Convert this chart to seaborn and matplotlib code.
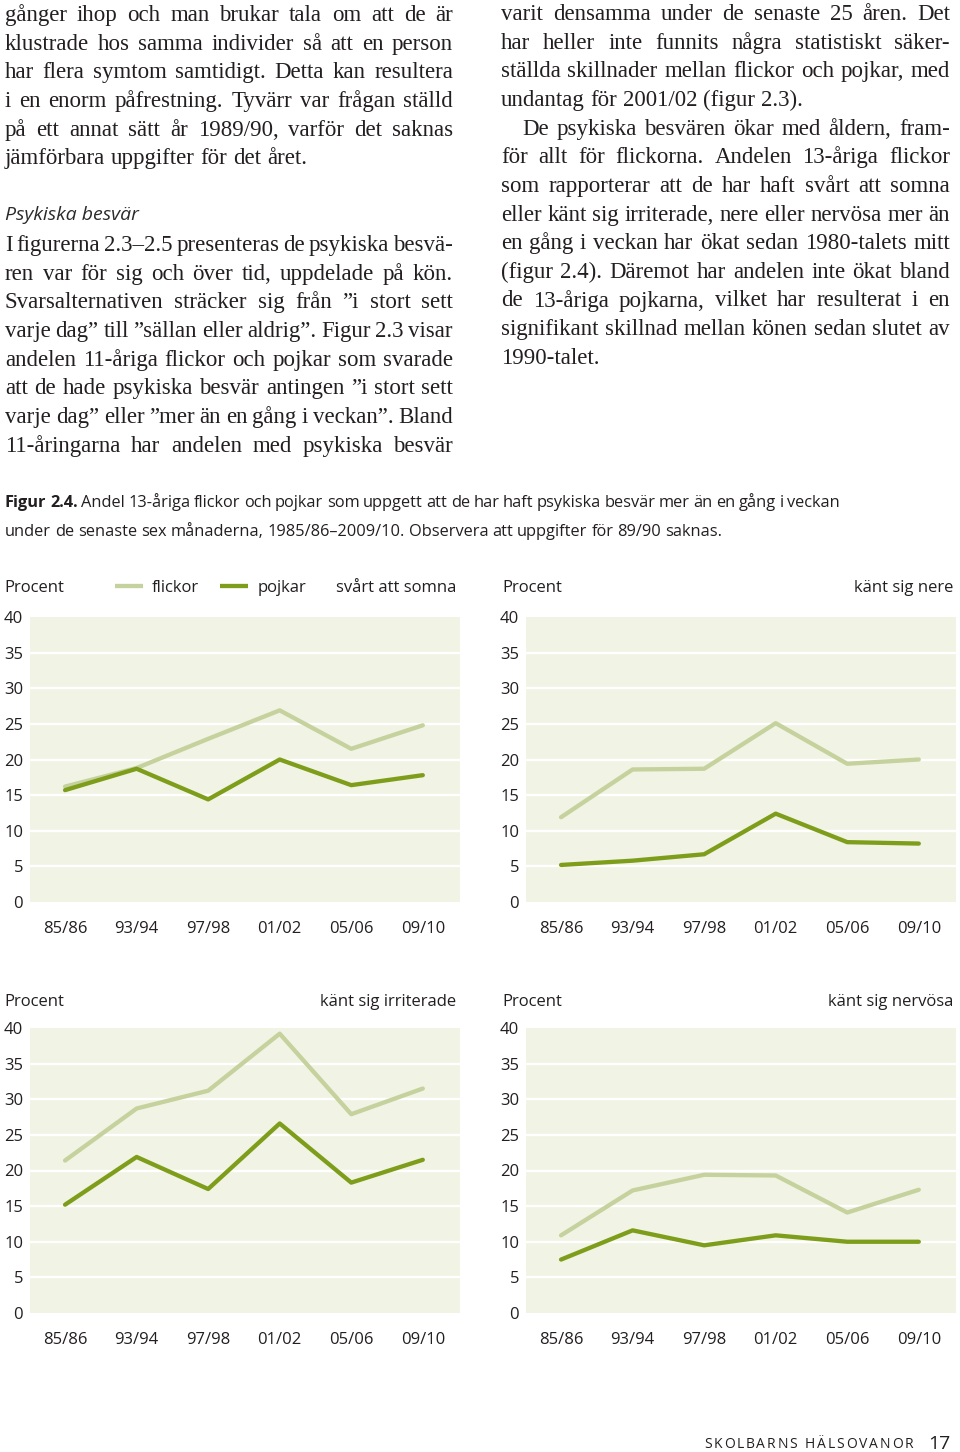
import unicodedata
import matplotlib
matplotlib.use("Agg")
import matplotlib.pyplot as plt
import seaborn as sns
import pandas as pd

# ---------------- data ----------------
years = ["85/86", "93/94", "97/98", "01/02", "05/06", "09/10"]
genders = ["flickor", "pojkar"]

sleep_girls = [16.2, 18.8, 22.9, 26.9, 21.5, 24.8]
sleep_boys = [15.7, 18.7, 14.4, 20.0, 16.4, 17.8]
down_girls = [11.9, 18.6, 18.7, 25.1, 19.4, 20.0]
down_boys = [5.2, 5.8, 6.7, 12.4, 8.4, 8.2]
irrit_girls = [21.4, 28.7, 31.2, 39.2, 27.9, 31.5]
irrit_boys = [15.2, 21.9, 17.4, 26.6, 18.3, 21.5]
nerv_girls = [10.9, 17.2, 19.4, 19.3, 14.1, 17.3]
nerv_boys = [7.5, 11.6, 9.5, 10.9, 10.0, 10.0]

panel_titles = ["svårt att somna", "känt sig nere", "känt sig irriterade", "känt sig nervösa"]
panel_girls = [sleep_girls, down_girls, irrit_girls, nerv_girls]
panel_boys = [sleep_boys, down_boys, irrit_boys, nerv_boys]
y_ticks = [0, 5, 10, 15, 20, 25, 30, 35, 40]

caption_bold = "Figur 2.4."
caption_l1 = "Andel 13-åriga flickor och pojkar som uppgett att de har haft psykiska besvär mer än en gång i veckan"
caption_l2 = "under de senaste sex månaderna, 1985/86–2009/10. Observera att uppgifter för 89/90 saknas."

left_col_a = [
    "gånger ihop och man brukar tala om att de är",
    "klustrade hos samma individer så att en person",
    "har flera symtom samtidigt. Detta kan resultera",
    "i en enorm påfrestning. Tyvärr var frågan ställd",
    "på ett annat sätt år 1989/90, varför det saknas",
    "jämförbara uppgifter för det året.",
]
left_heading = "Psykiska besvär"
left_col_b = [
    "I figurerna 2.3–2.5 presenteras de psykiska besvä-",
    "ren var för sig och över tid, uppdelade på kön.",
    "Svarsalternativen sträcker sig från ”i stort sett",
    "varje dag” till ”sällan eller aldrig”. Figur 2.3 visar",
    "andelen 11-åriga flickor och pojkar som svarade",
    "att de hade psykiska besvär antingen ”i stort sett",
    "varje dag” eller ”mer än en gång i veckan”. Bland",
    "11-åringarna har andelen med psykiska besvär",
]
right_col = [
    "varit densamma under de senaste 25 åren. Det",
    "har heller inte funnits några statistiskt säker-",
    "ställda skillnader mellan flickor och pojkar, med",
    "undantag för 2001/02 (figur 2.3).",
    "De psykiska besvären ökar med åldern, fram-",
    "för allt för flickorna. Andelen 13-åriga flickor",
    "som rapporterar att de har haft svårt att somna",
    "eller känt sig irriterade, nere eller nervösa mer än",
    "en gång i veckan har ökat sedan 1980-talets mitt",
    "(figur 2.4). Däremot har andelen inte ökat bland",
    "de 13-åriga pojkarna, vilket har resulterat i en",
    "signifikant skillnad mellan könen sedan slutet av",
    "1990-talet.",
]
footer_text = "SKOLBARNS HÄLSOVANOR"
page_no = "17"

# ---------------- style ----------------
C_GIRL = "#c5d29d"
C_BOY = "#7e9e1b"
BG = "#f1f3e5"
TXT = "#231f20"
SERIF = ["Liberation Serif", "DejaVu Serif"]
SANS = ["Open Sans", "DejaVu Sans"]

sns.set_style("white")
plt.rcParams["font.family"] = SANS


def nfc(s):
    return unicodedata.normalize("NFC", s)


W, H = 960, 1452
fig = plt.figure(figsize=(W / 100, H / 100), dpi=100)
fig.patch.set_facecolor("white")
page = fig.add_axes([0, 0, 1, 1])
page.set_xlim(0, W)
page.set_ylim(H, 0)
page.axis("off")
renderer = fig.canvas.get_renderer()


def text_w(s, fs, family, style="normal", weight="normal"):
    t = page.text(0, 0, s, fontsize=fs, family=family, style=style, weight=weight)
    w = t.get_window_extent(renderer).width
    t.remove()
    return w


def space_w(fs, family, style="normal", weight="normal"):
    return text_w("H H", fs, family, style, weight) - text_w("HH", fs, family, style, weight)


def place_line(words, x0, yb, x1=None, fs=14.5, family=SERIF, style="normal",
               weights=None, color=TXT):
    ts = []
    for i, w in enumerate(words):
        wt = weights[i] if weights else "normal"
        ts.append(page.text(x0, yb, nfc(w), fontsize=fs, family=family, style=style,
                            weight=wt, color=color, va="baseline", ha="left"))
    ws = [t.get_window_extent(renderer).width for t in ts]
    if x1 is not None and len(ts) > 1:
        gap = (x1 - x0 - sum(ws)) / (len(ts) - 1)
    else:
        gap = space_w(fs, family, style)
    x = x0
    for t, w in zip(ts, ws):
        t.set_x(x)
        x += w + gap


# ---------------- body text ----------------
BODY_FS = 16.5
LS = 28.65
for i, ln in enumerate(left_col_a):
    last = i == len(left_col_a) - 1
    place_line(ln.split(" "), 5, 21 + i * LS, None if last else 453, fs=BODY_FS)
page.text(5, 220, nfc(left_heading), fontsize=14, family=SANS, style="italic",
          color="#2b2b2b", va="baseline", ha="left")
for i, ln in enumerate(left_col_b):
    place_line(ln.split(" "), 5, 251 + i * LS, 453, fs=BODY_FS)

for i, ln in enumerate(right_col):
    last = i in (3, len(right_col) - 1)
    x0 = 522 if i == 4 else 501
    place_line(ln.split(" "), x0, 20 + i * LS, None if last else 950, fs=BODY_FS)

# ---------------- caption ----------------
CAP_FS = 11.8
w1 = [caption_bold.split(" ")[0], caption_bold.split(" ")[1]] + caption_l1.split(" ")
wt1 = ["bold", "bold"] + ["normal"] * len(caption_l1.split(" "))
place_line(w1, 5, 507, 840, fs=CAP_FS, family=SANS, weights=wt1)
place_line(caption_l2.split(" "), 5, 536, 722, fs=CAP_FS, family=SANS)

# ---------------- footer ----------------
F_FS = 10
chars = list(nfc(footer_text))
fts = []
for ch in chars:
    if ch == " ":
        fts.append(None)
        continue
    fts.append(page.text(0, 1448, ch, fontsize=F_FS, family=SANS, color=TXT,
                         va="baseline", ha="left"))
cws = [t.get_window_extent(renderer).width if t is not None else space_w(F_FS, SANS) for t in fts]
track = (913 - 704 - sum(cws)) / (len(chars) - 1)
x = 704
for t, w in zip(fts, cws):
    if t is not None:
        t.set_x(x)
    x += w + track
page.text(928, 1449, page_no, fontsize=14, family=SANS, color=TXT, va="baseline", ha="left")

# ---------------- charts ----------------
boxes = [(30, 617, 460, 902), (526, 617, 956, 902), (30, 1028, 460, 1313), (526, 1028, 956, 1313)]
title_base = [592, 592, 1006, 1006]
procent_x = [4, 502, 4, 502]
title_right = [456, 953, 456, 953]
TICK_FS = 12

for k in range(4):
    l, t, r, b = boxes[k]
    ax = fig.add_axes([l / W, 1 - b / H, (r - l) / W, (b - t) / H])
    ax.set_facecolor(BG)
    rows = []
    for g, vals in zip(genders, [panel_girls[k], panel_boys[k]]):
        for i, v in enumerate(vals):
            rows.append({"pos": i, "value": v, "kön": g})
    df = pd.DataFrame(rows)
    for v in y_ticks[1:-1]:
        ax.axhline(v, color="white", lw=1.7, zorder=0.5)
    sns.lineplot(data=df, x="pos", y="value", hue="kön", hue_order=genders,
                 palette={"flickor": C_GIRL, "pojkar": C_BOY}, linewidth=3.1,
                 legend=False, ax=ax, zorder=3)
    ax.set_xlim(-0.49, 5.52)
    ax.set_ylim(0, 40)
    ax.set_xticks(range(len(years)))
    ax.set_xticklabels(years)
    ax.set_yticks(y_ticks)
    ax.set_yticklabels([str(v) for v in y_ticks])
    ax.set_xlabel("")
    ax.set_ylabel("")
    ax.tick_params(axis="y", length=0, pad=5, labelsize=TICK_FS, labelcolor=TXT)
    ax.tick_params(axis="x", length=0, pad=14, labelsize=TICK_FS, labelcolor=TXT)
    for s in ax.spines.values():
        s.set_visible(False)
    page.text(procent_x[k], title_base[k], "Procent", fontsize=TICK_FS, family=SANS,
              color=TXT, va="baseline", ha="left")
    page.text(title_right[k], title_base[k], nfc(panel_titles[k]), fontsize=TICK_FS,
              family=SANS, color=TXT, va="baseline", ha="right")

# legend (first panel)
page.plot([115, 143], [586, 586], color=C_GIRL, lw=3.1, solid_capstyle="butt")
page.text(152, 592, genders[0], fontsize=TICK_FS, family=SANS, color=TXT, va="baseline")
page.plot([220, 248], [586, 586], color=C_BOY, lw=3.1, solid_capstyle="butt")
page.text(258, 592, genders[1], fontsize=TICK_FS, family=SANS, color=TXT, va="baseline")

fig.savefig("out.png", dpi=100, facecolor="white")
